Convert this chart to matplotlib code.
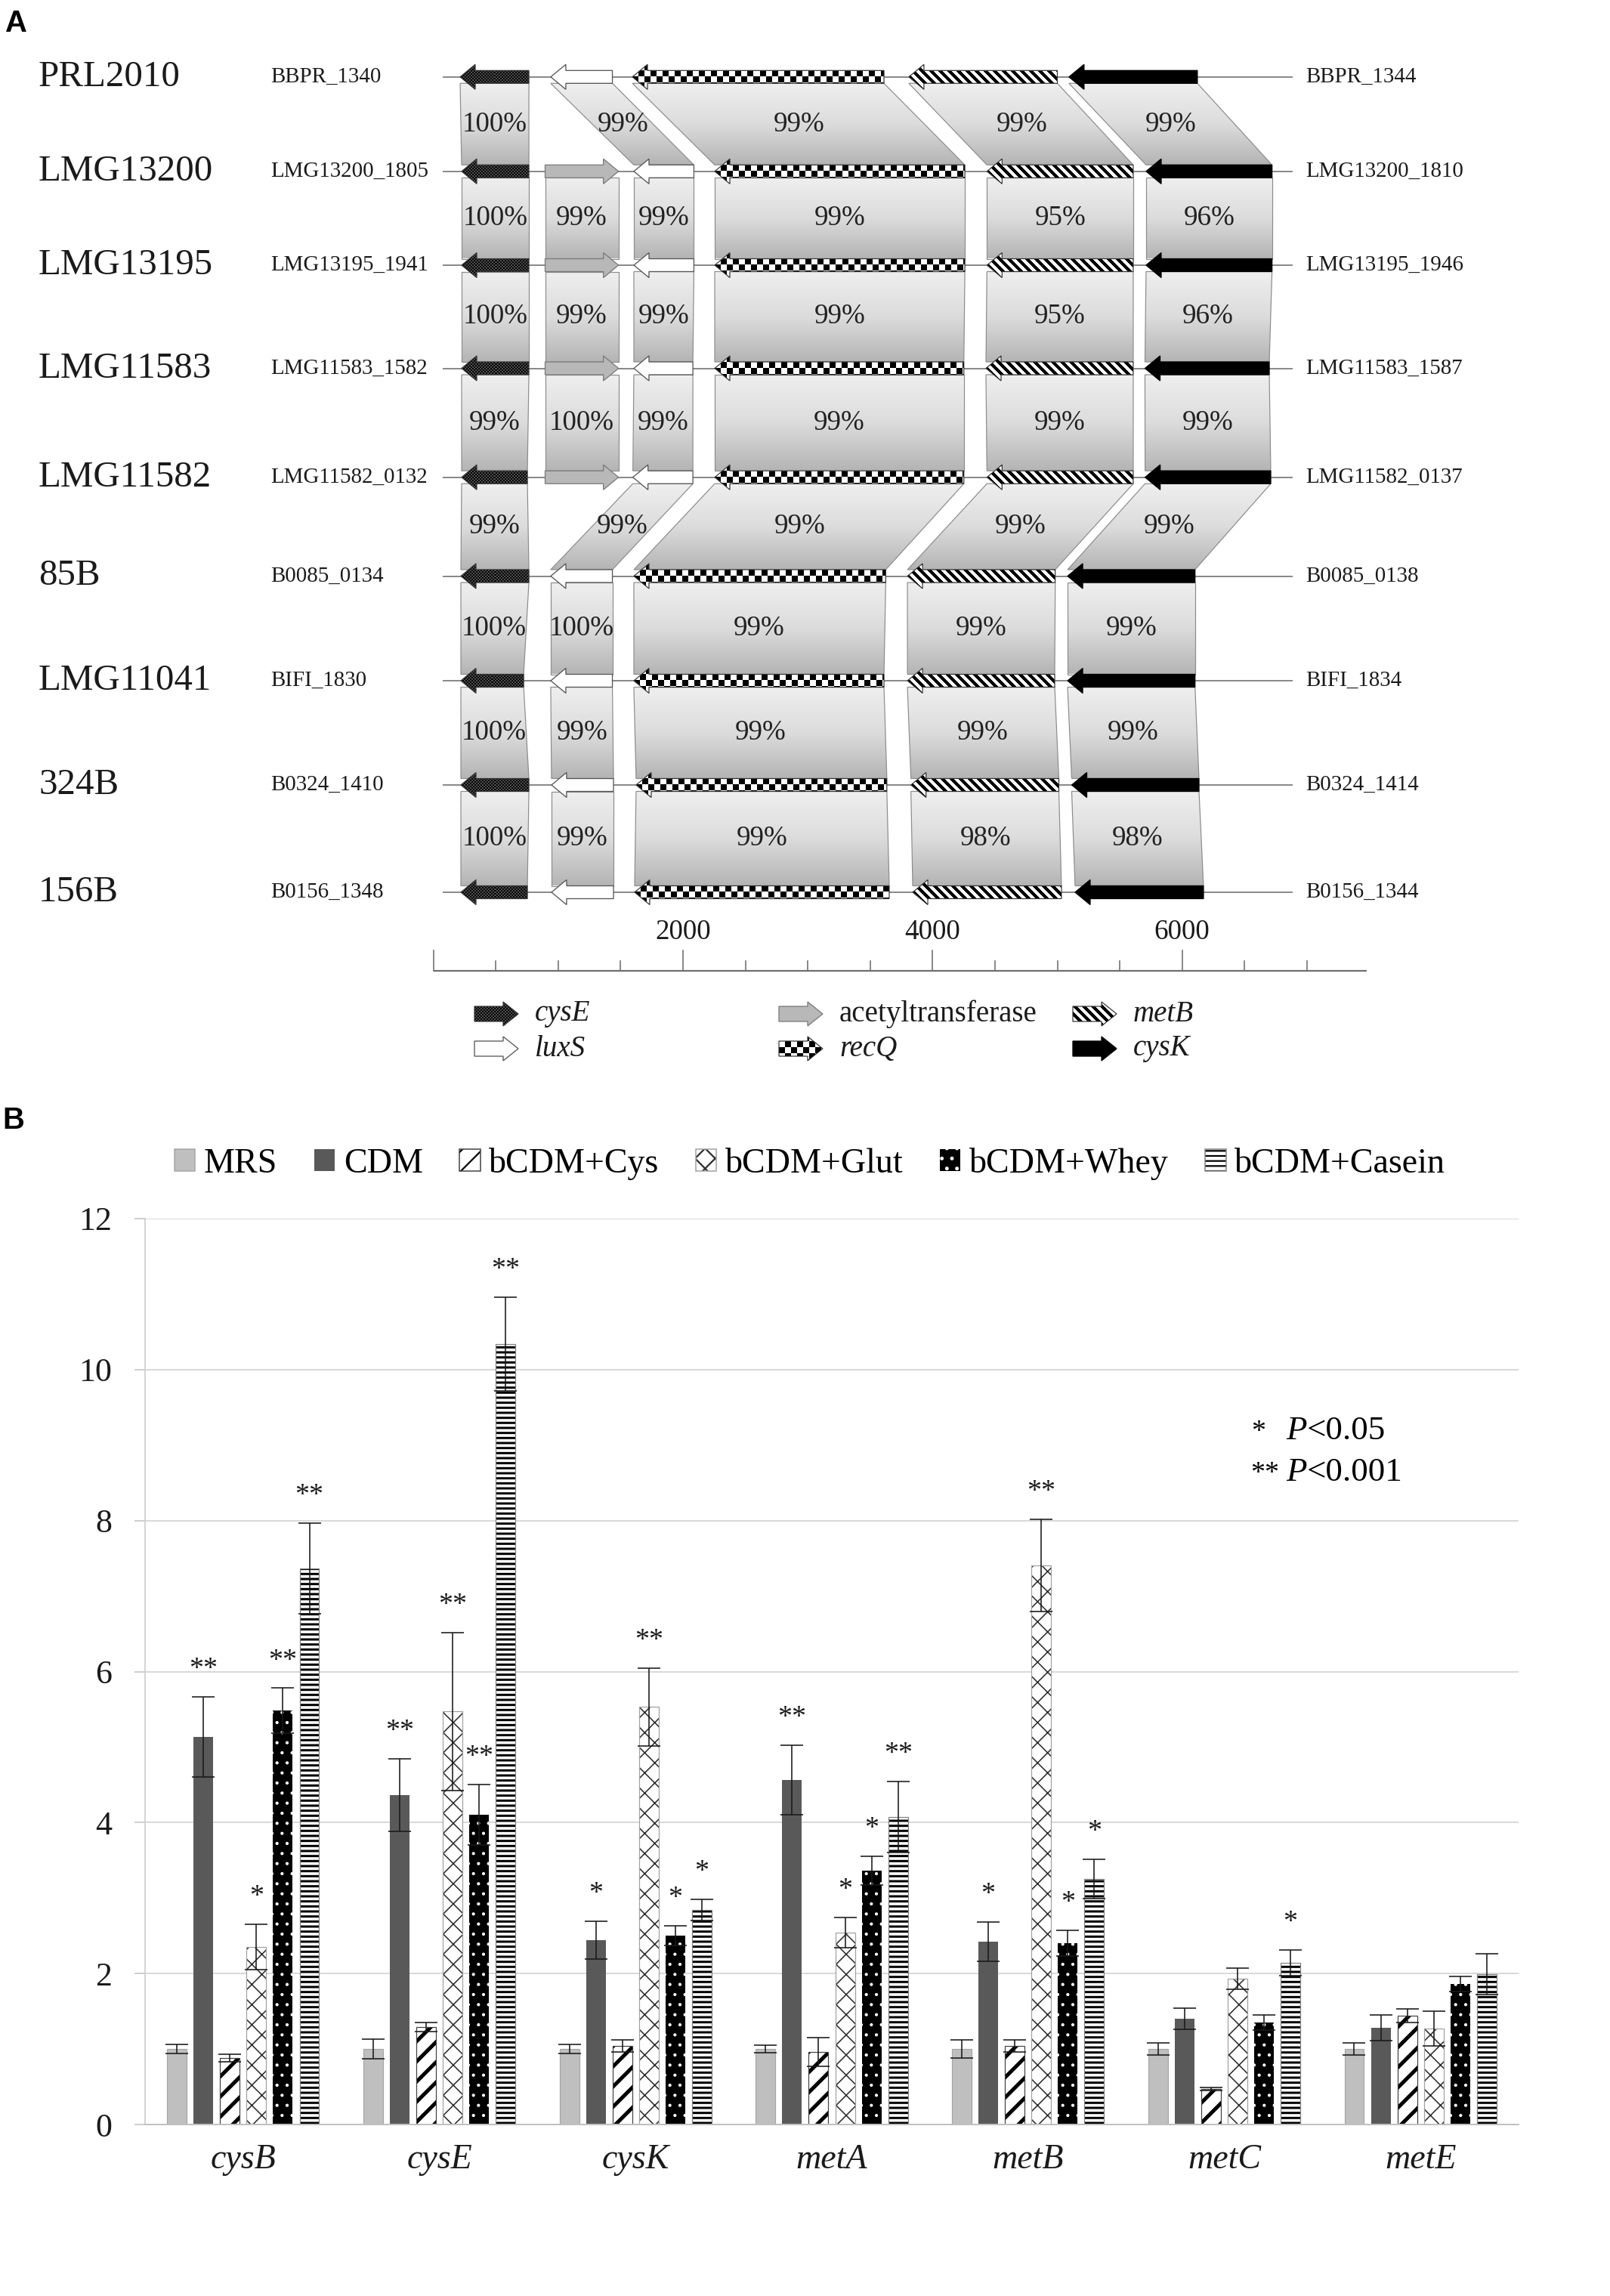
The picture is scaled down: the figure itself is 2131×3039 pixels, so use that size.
import numpy as np
import matplotlib
matplotlib.use('Agg')
import matplotlib.pyplot as plt
from matplotlib.patches import Polygon, Patch
from matplotlib.colors import LinearSegmentedColormap
from matplotlib.legend_handler import HandlerTuple
import matplotlib.transforms as mtransforms

# ---------------------------------------------------------------- data (panel A)
strains = ['PRL2010', 'LMG13200', 'LMG13195', 'LMG11583', 'LMG11582',
           '85B', 'LMG11041', '324B', '156B']
left_ids = ['BBPR_1340', 'LMG13200_1805', 'LMG13195_1941', 'LMG11583_1582',
            'LMG11582_0132', 'B0085_0134', 'BIFI_1830', 'B0324_1410', 'B0156_1348']
right_ids = ['BBPR_1344', 'LMG13200_1810', 'LMG13195_1946', 'LMG11583_1587',
             'LMG11582_0137', 'B0085_0138', 'BIFI_1834', 'B0324_1414', 'B0156_1344']

# gene coordinates in bp (start, end) for each strain; None = absent
cysE_loc = [(215, 766), (227, 766), (227, 766), (227, 766), (227, 754),
            (221, 766), (221, 724), (221, 766), (221, 754)]
acetyl_loc = [None, (896, 1484), (896, 1484), (896, 1484), (896, 1484),
              None, None, None, None]
luxS_loc = [(941, 1435), (1607, 2088), (1607, 2088), (1607, 2080), (1599, 2080),
            (941, 1435), (941, 1435), (947, 1444), (947, 1444)]
recQ_loc = [(1595, 3611), (2255, 4259), (2255, 4259), (2255, 4251), (2255, 4251),
            (1607, 3625), (1607, 3611), (1625, 3634), (1613, 3653)]
metB_loc = [(3810, 5000), (4436, 5608), (4436, 5608), (4428, 5608), (4436, 5608),
            (3799, 4983), (3799, 4979), (3827, 5012), (3841, 5033)]
cysK_loc = [(5093, 6122), (5711, 6720), (5711, 6720), (5702, 6698), (5703, 6710),
            (5082, 6103), (5082, 6103), (5115, 6135), (5142, 6171)]
backbone_bp = (75, 6885)

# % identity between consecutive strains (8 pairs)
id_cysE = [100, 100, 100, 99, 99, 100, 100, 100]
id_acetyl = [None, 99, 99, 100, None, None, None, None]
id_luxS = [99, 99, 99, 99, 99, 100, 99, 99]
id_recQ = [99, 99, 99, 99, 99, 99, 99, 99]
id_metB = [99, 95, 95, 99, 99, 99, 99, 98]
id_cysK = [99, 96, 96, 99, 99, 99, 99, 98]

ruler_max = 7480
ruler_minor_step = 500
ruler_labels = [2000, 4000, 6000]

legend_genes = [['cysE', 'acetyltransferase', 'metB'],
                ['luxS', 'recQ', 'cysK']]

# ---------------------------------------------------------------- data (panel B)
genes_b = ['cysB', 'cysE', 'cysK', 'metA', 'metB', 'metC', 'metE']
media = ['MRS', 'CDM', 'bCDM+Cys', 'bCDM+Glut', 'bCDM+Whey', 'bCDM+Casein']
mrs = [1.00, 1.00, 1.00, 1.00, 1.00, 1.00, 1.00]
cdm = [5.13, 4.36, 2.44, 4.56, 2.42, 1.40, 1.28]
cys = [0.88, 1.29, 1.04, 0.96, 1.04, 0.47, 1.44]
glut = [2.35, 5.47, 5.53, 2.54, 7.41, 1.93, 1.27]
whey = [5.48, 4.10, 2.50, 3.36, 2.40, 1.35, 1.86]
casein = [7.37, 10.34, 2.84, 4.07, 3.25, 2.14, 1.99]
mrs_err = [0.06, 0.13, 0.06, 0.05, 0.12, 0.08, 0.08]
cdm_err = [0.53, 0.48, 0.25, 0.46, 0.26, 0.14, 0.17]
cys_err = [0.05, 0.06, 0.08, 0.19, 0.08, 0.02, 0.09]
glut_err = [0.30, 1.05, 0.52, 0.20, 0.61, 0.14, 0.23]
whey_err = [0.30, 0.40, 0.13, 0.19, 0.17, 0.10, 0.10]
casein_err = [0.60, 0.62, 0.14, 0.47, 0.26, 0.17, 0.27]
sig_cdm = ['**', '**', '*', '**', '*', '', '']
sig_glut = ['*', '**', '**', '*', '**', '', '']
sig_whey = ['**', '**', '*', '*', '*', '', '']
sig_casein = ['**', '**', '*', '**', '*', '*', '']
y_ticks_b = [0, 2, 4, 6, 8, 10, 12]

# ---------------------------------------------------------------- setup
DPI = 160
W_PX, H_PX = 2131, 3039
PT = 72.0 / DPI          # pixel -> point

plt.rcParams['font.family'] = ['Liberation Serif', 'DejaVu Serif']
fig = plt.figure(figsize=(W_PX / DPI, H_PX / DPI), dpi=DPI)
fig.patch.set_facecolor('white')

# ================================================================ panel A
A_TOP_PX = 1420
X0_PX = 573.5
PX_PER_BP = 0.1652
ROW_Y = [101.8, 226.8, 351, 487.5, 631.7, 762.5, 901, 1039, 1181]
BODY_H = 8.5
HEAD_H = 16.5
HEAD_L = 20

axA = fig.add_axes([0, 1 - A_TOP_PX / H_PX, 1, A_TOP_PX / H_PX])
axA.set_axis_off()
blend = mtransforms.blended_transform_factory(fig.transFigure, axA.transData)


def px2bp(px):
    return (px - X0_PX) / PX_PER_BP


gene_order = ['cysE', 'acetyltransferase', 'luxS', 'recQ', 'metB', 'cysK']
gene_locs = {'cysE': cysE_loc, 'acetyltransferase': acetyl_loc, 'luxS': luxS_loc,
             'recQ': recQ_loc, 'metB': metB_loc, 'cysK': cysK_loc}
identity = {'cysE': id_cysE, 'acetyltransferase': id_acetyl, 'luxS': id_luxS,
            'recQ': id_recQ, 'metB': id_metB, 'cysK': id_cysK}
direction = {'cysE': -1, 'acetyltransferase': 1, 'luxS': -1, 'recQ': -1,
             'metB': -1, 'cysK': -1}
solid_style = {'acetyltransferase': ('#b8b8b8', '#7a7a7a'),
               'luxS': ('white', '#555555'),
               'cysK': ('black', 'black')}


def pattern(gene, ncols, nrows, off):
    J, I = np.meshgrid(np.arange(ncols), np.arange(nrows))
    if gene == 'recQ':
        return (((I - off) // 8 + J // 8) % 2).astype(float)
    if gene == 'metB':
        return (((J - I) // 6) % 2).astype(float)
    return 0.70 + 0.28 * (((J // 2) + (I // 2)) % 2)


def draw_gene(ax, s, e, y, gene, dirn, bh=BODY_H, hh=HEAD_H, hl_px=HEAD_L, z=4):
    hl = hl_px / PX_PER_BP
    if dirn < 0:
        b = min(s + hl, e)
        pts = [(s, y), (b, y - hh), (b, y - bh), (e, y - bh), (e, y + bh),
               (b, y + bh), (b, y + hh)]
    else:
        b = max(e - hl, s)
        pts = [(s, y - bh), (b, y - bh), (b, y - hh), (e, y), (b, y + hh),
               (b, y + bh), (s, y + bh)]
    if gene in solid_style:
        fc, ec = solid_style[gene]
        ax.add_patch(Polygon(pts, closed=True, facecolor=fc, edgecolor=ec,
                             lw=1.3 * PT, zorder=z))
    else:
        clip = Polygon(pts, closed=True, facecolor='white', edgecolor='none', zorder=z)
        ax.add_patch(clip)
        ncols = max(2, int(round((e - s) * PX_PER_BP)))
        nrows = int(round(2 * hh))
        img = pattern(gene, ncols, nrows, int(round(hh - bh)))
        im = ax.imshow(img, extent=(s, e, y + hh, y - hh), origin='upper',
                       cmap='gray_r', vmin=0, vmax=1, interpolation='nearest',
                       aspect='auto', zorder=z + 0.1)
        im.set_clip_path(clip)
        ax.add_patch(Polygon(pts, closed=True, facecolor='none', edgecolor='#333333',
                             lw=1.2 * PT, zorder=z + 0.2))


ribbon_cmap = LinearSegmentedColormap.from_list('rib', ['#efefef', '#dcdcdc', '#b4b4b4'])
grad = np.linspace(0, 1, 256).reshape(-1, 1)

# ribbons
for g in gene_order:
    locs = gene_locs[g]
    for p in range(len(strains) - 1):
        v = identity[g][p]
        if v is None or locs[p] is None or locs[p + 1] is None:
            continue
        a, b = locs[p], locs[p + 1]
        y1 = ROW_Y[p] + BODY_H
        y2 = ROW_Y[p + 1] - BODY_H
        pts = [(a[0], y1), (a[1], y1), (b[1], y2), (b[0], y2)]
        poly = Polygon(pts, closed=True, facecolor='none', edgecolor='#8c8c8c',
                       lw=1.2 * PT, zorder=1.5)
        axA.add_patch(poly)
        xs = [q[0] for q in pts]
        im = axA.imshow(grad, extent=(min(xs), max(xs), y2, y1), origin='upper',
                        cmap=ribbon_cmap, aspect='auto', interpolation='bilinear',
                        zorder=1)
        im.set_clip_path(poly)
        axA.text(np.mean(xs), (y1 + y2) / 2, f'{v}%', ha='center', va='center',
                 fontsize=37 * PT, color='#222222', zorder=2)

# backbones, genes, labels
for i, s_name in enumerate(strains):
    y = ROW_Y[i]
    axA.plot(backbone_bp, [y, y], color='#6e6e6e', lw=1.6 * PT, zorder=2,
             solid_capstyle='butt')
    for g in gene_order:
        loc = gene_locs[g][i]
        if loc is None:
            continue
        draw_gene(axA, loc[0], loc[1], y, g, direction[g])
    axA.text(51 / W_PX, y, s_name, transform=blend, ha='left', va='center',
             fontsize=49 * PT, color='#1a1a1a')
    axA.text(358 / W_PX, y, left_ids[i], transform=blend, ha='left', va='center',
             fontsize=29 * PT, color='#1a1a1a')
    axA.text(1728 / W_PX, y, right_ids[i], transform=blend, ha='left', va='center',
             fontsize=29 * PT, color='#1a1a1a')

# ruler
RULER_Y = 1285
axA.plot([0, ruler_max], [RULER_Y, RULER_Y], color='#6e6e6e', lw=2.2 * PT,
         solid_capstyle='butt')
for t in range(0, ruler_max, ruler_minor_step):
    major = (t % 2000 == 0)
    axA.plot([t, t], [RULER_Y, RULER_Y - (27 if major else 13)], color='#6e6e6e',
             lw=1.6 * PT)
for t in ruler_labels:
    axA.text(t, 1234, str(t), ha='center', va='center', fontsize=37 * PT,
             color='#1a1a1a')

# legend of panel A
LEG_ROWS = [1342, 1388]
LEG_COLS = [628, 1031, 1420]
for r, row in enumerate(legend_genes):
    for c, g in enumerate(row):
        x0 = px2bp(LEG_COLS[c])
        x1 = px2bp(LEG_COLS[c] + 58)
        draw_gene(axA, x0, x1, LEG_ROWS[r], g, 1, bh=10, hh=16, hl_px=20)
        axA.text(px2bp(LEG_COLS[c] + 80), LEG_ROWS[r], g, ha='left', va='center',
                 fontsize=39 * PT, color='#1a1a1a',
                 fontstyle='normal' if g == 'acetyltransferase' else 'italic')

axA.set_xlim(px2bp(0), px2bp(W_PX))
axA.set_ylim(A_TOP_PX, 0)

fig.text(7 / W_PX, 1 - 31 / H_PX, 'A', fontsize=40 * PT, fontweight='bold',
         family=['Liberation Sans', 'DejaVu Sans'], ha='left', va='center')

# ================================================================ panel B
AX_L, AX_R, AX_T, AX_B = 192, 2010, 1613, 2812
axB = fig.add_axes([AX_L / W_PX, 1 - AX_B / H_PX, (AX_R - AX_L) / W_PX,
                    (AX_B - AX_T) / H_PX])

series = [mrs, cdm, cys, glut, whey, casein]
errors = [mrs_err, cdm_err, cys_err, glut_err, whey_err, casein_err]
sigs = [None, sig_cdm, None, sig_glut, sig_whey, sig_casein]
# facecolor, hatch colour, hatch, hatch lw (px), outline colour
bar_styles = [
    ('#bfbfbf', '#bfbfbf', None, 0, '#a6a6a6'),
    ('#595959', '#595959', None, 0, None),
    ('white', 'black', '//', 5.0, '#404040'),
    ('white', '#2e2e2e', 'xx', 1.6, '#a0a0a0'),
    ('black', 'white', '..', 1.5, None),
    ('white', 'black', '----', 3.0, '#808080'),
]
xg = np.arange(len(genes_b))
BAR_W = 0.1
PITCH = 0.135
handles = []
for j, (vals, errs) in enumerate(zip(series, errors)):
    fc, hc, hatch, hlw, oc = bar_styles[j]
    xpos = xg + (j - 2.5) * PITCH
    with plt.rc_context({'hatch.linewidth': max(hlw, 0.1) * PT}):
        bars = axB.bar(xpos, vals, width=BAR_W, color=fc, edgecolor=hc, hatch=hatch,
                       linewidth=0, zorder=2)
        for p in bars:
            try:
                p.set_hatch_linewidth(max(hlw, 0.1) * PT)
            except AttributeError:
                pass
        h = Patch(facecolor=fc, edgecolor=hc, hatch=hatch, linewidth=0)
        try:
            h.set_hatch_linewidth(max(hlw, 0.1) * PT)
        except AttributeError:
            pass
    if oc is not None:
        axB.bar(xpos, vals, width=BAR_W, fill=False, edgecolor=oc,
                linewidth=1.2 * PT, zorder=2.5)
        handles.append((h, Patch(fill=False, edgecolor=oc, linewidth=1.5 * PT)))
    else:
        handles.append((h,))
    axB.errorbar(xpos, vals, yerr=errs, fmt='none', ecolor='#1a1a1a',
                 elinewidth=1.6 * PT, capsize=15 * PT, capthick=1.6 * PT, zorder=4)
    if sigs[j] is not None:
        for k, s in enumerate(sigs[j]):
            if s:
                axB.text(xpos[k], vals[k] + errs[k] + 0.27, s, ha='center',
                         va='baseline', fontsize=38 * PT, color='#1a1a1a', zorder=5)

axB.set_xlim(-0.5, len(genes_b) - 0.5)
axB.set_ylim(0, 12)
axB.set_yticks(y_ticks_b)
axB.set_yticklabels([str(t) for t in y_ticks_b], fontsize=44 * PT, color='#1a1a1a')
axB.set_xticks(xg)
axB.set_xticklabels(genes_b, fontsize=46 * PT, fontstyle='italic', color='#1a1a1a')
axB.tick_params(axis='x', length=0, pad=26 * PT)
axB.tick_params(axis='y', length=14 * PT, width=1.5 * PT, color='#bfbfbf',
                pad=30 * PT)
axB.yaxis.grid(True, color='#d9d9d9', lw=2 * PT, zorder=0)
axB.set_axisbelow(True)
for sp in ['top', 'right']:
    axB.spines[sp].set_visible(False)
axB.spines['left'].set_color('#d0d0d0')
axB.spines['left'].set_linewidth(1.8 * PT)
axB.spines['bottom'].set_color('#c0c0c0')
axB.spines['bottom'].set_linewidth(2 * PT)

fig.legend(handles, media, loc='center', bbox_to_anchor=(1072 / W_PX, 1 - 1540 / H_PX),
           ncol=6, frameon=False, fontsize=46 * PT, handlelength=0.6,
           handleheight=0.6, handletextpad=0.25, columnspacing=1.05,
           handler_map={tuple: HandlerTuple(ndivide=1, pad=0)})

# significance key
fig.text(1656 / W_PX, 1 - 1905 / H_PX, '*', fontsize=38 * PT, ha='left', va='baseline')
fig.text(1702 / W_PX, 1 - 1905 / H_PX, 'P', fontsize=45 * PT, ha='left',
         va='baseline', fontstyle='italic')
fig.text(1730 / W_PX, 1 - 1905 / H_PX, '<0.05', fontsize=45 * PT, ha='left',
         va='baseline')
fig.text(1655 / W_PX, 1 - 1960 / H_PX, '**', fontsize=38 * PT, ha='left', va='baseline')
fig.text(1702 / W_PX, 1 - 1960 / H_PX, 'P', fontsize=45 * PT, ha='left',
         va='baseline', fontstyle='italic')
fig.text(1730 / W_PX, 1 - 1960 / H_PX, '<0.001', fontsize=45 * PT, ha='left',
         va='baseline')

fig.text(3 / W_PX, 1 - 1483 / H_PX, 'B', fontsize=40 * PT, fontweight='bold',
         family=['Liberation Sans', 'DejaVu Sans'], ha='left', va='center')

fig.savefig('out.png', dpi=DPI, facecolor='white')
